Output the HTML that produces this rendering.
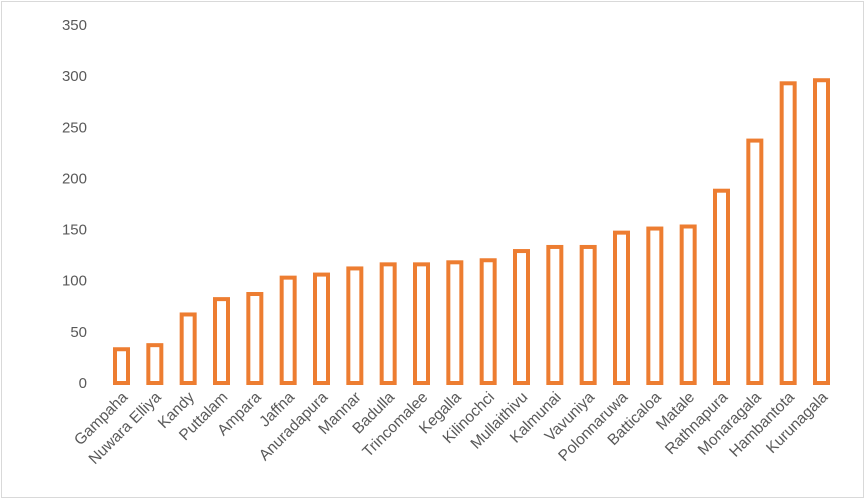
<!DOCTYPE html>
<html><head><meta charset="utf-8"><style>
body{margin:0;background:#fff}
svg{display:block;font-family:"Liberation Sans",sans-serif}
</style></head><body>
<svg id="chart" width="866" height="503">
<rect x="1.5" y="1.5" width="862" height="496" fill="#fff" stroke="#d9d9d9"/>
<g id="yaxis"></g>
<g id="bars"></g>
<g id="xlabels"></g>
</svg>
<script>
const categories=["Gampaha","Nuwara Elliya","Kandy","Puttalam","Ampara","Jaffna","Anuradapura","Mannar","Badulla","Trincomalee","Kegalla","Kilinochci","Mullaithivu","Kalmunai","Vavuniya","Polonnaruwa","Batticaloa","Matale","Rathnapura","Monaragala","Hambantota","Kurunagala"];
const values=[33,37,67,82,87,103,106,112,116,116,118,120,129,133,133,147,151,153,188,237,293,296];
const yTicks=[0,50,100,150,200,250,300,350];
const NS="http://www.w3.org/2000/svg";
const y0=383,y1=25,vmax=350,x0=121.5,x1=821.5;
function yScale(v){return y0-(v/vmax)*(y0-y1);}
function xScale(i){return x0+i*(x1-x0)/(categories.length-1);}
const ya=document.getElementById('yaxis');
yTicks.forEach(t=>{
 const e=document.createElementNS(NS,'text');
 
 
 e.setAttribute('x',87);e.setAttribute('y',yScale(t)+5);
 e.setAttribute('text-anchor','end');e.setAttribute('font-size','15');e.setAttribute('fill','#595959');
 e.textContent=t;ya.appendChild(e);
});
const bg=document.getElementById('bars'),xl=document.getElementById('xlabels');
values.forEach((v,i)=>{
 const cx=xScale(i),w=13;
 const r=document.createElementNS(NS,'rect');
 
 
 r.setAttribute('x',cx-w/2);r.setAttribute('y',yScale(v));
 r.setAttribute('width',w);r.setAttribute('height',y0-yScale(v));
 r.setAttribute('fill','#fff');r.setAttribute('stroke','#ed7d31');r.setAttribute('stroke-width','4');
 bg.appendChild(r);
 const t=document.createElementNS(NS,'text');
 
 
 t.setAttribute('transform','translate('+(cx+7)+',398) rotate(-45)');
 t.setAttribute('text-anchor','end');t.setAttribute('font-size','15.5');t.setAttribute('fill','#595959');
 t.textContent=categories[i];xl.appendChild(t);
});
</script>
</body></html>
